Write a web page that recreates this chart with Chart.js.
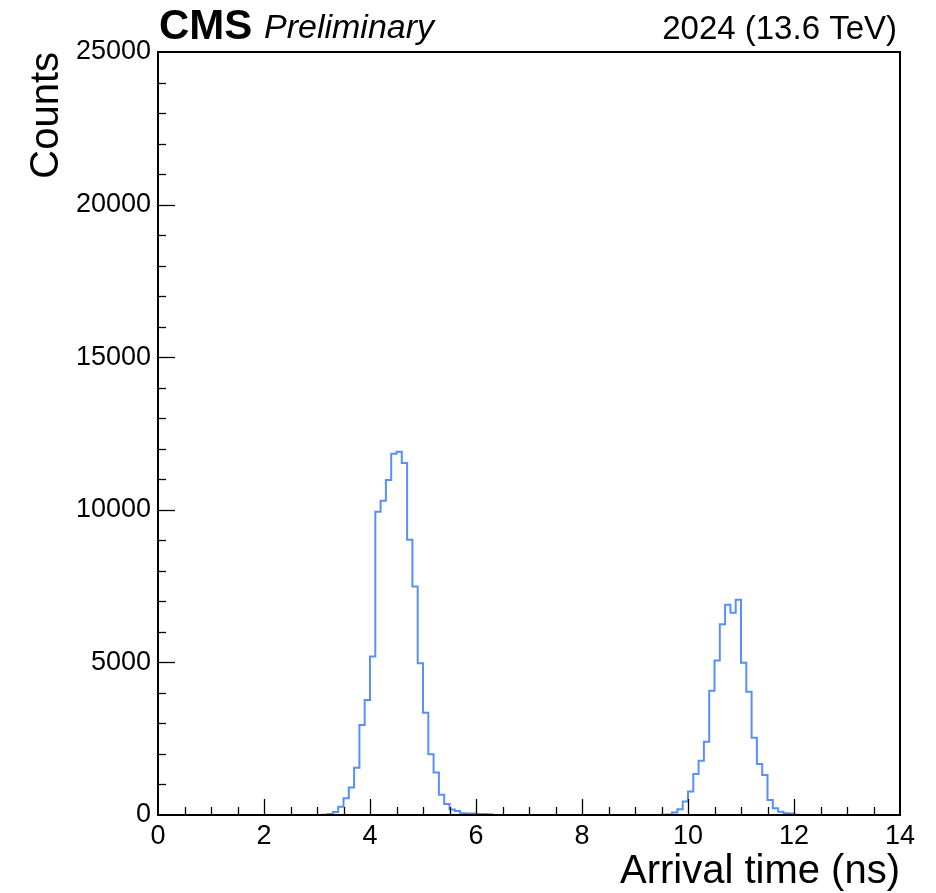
<!DOCTYPE html>
<html>
<head>
<meta charset="utf-8">
<script src="https://cdn.jsdelivr.net/npm/chart.js@4.4.1/dist/chart.umd.min.js"></script>
<style>
  html, body { margin: 0; padding: 0; background: #fff; }
  #wrap { width: 936px; height: 893px; }
</style>
</head>
<body>
<div id="wrap"><canvas id="myChart" width="936" height="893"></canvas></div>
<script>
// histogram: 140 bins of 0.1 ns from 0 to 14 ns
const binWidth = 0.1;
const xMin = 0;
const xMax = 14;
const counts = [
  0, 0, 0, 0, 0, 0, 0, 0, 0, 0,                        // 0.0 - 1.0
  0, 0, 0, 0, 0, 0, 0, 0, 0, 0,                        // 1.0 - 2.0
  0, 0, 0, 0, 0, 0, 0, 0, 0, 0,                        // 2.0 - 3.0
  0, 10, 30, 100, 270, 550, 900, 1550, 2950, 3770,     // 3.0 - 4.0
  5190, 9940, 10300, 10980, 11840, 11900, 11530, 9020, 7490, 4970, // 4.0 - 5.0
  3350, 1990, 1390, 660, 360, 180, 130, 60, 50, 50,    // 5.0 - 6.0
  30, 30, 25, 0, 0, 0, 0, 0, 0, 0,                     // 6.0 - 7.0
  0, 0, 0, 0, 0, 0, 0, 0, 0, 0,                        // 7.0 - 8.0
  0, 0, 0, 0, 0, 0, 0, 0, 0, 0,                        // 8.0 - 9.0
  0, 0, 0, 0, 0, 5, 20, 80, 190, 440,                  // 9.0 - 10.0
  770, 1340, 1780, 2400, 4070, 5060, 6250, 6890, 6630, 7050, // 10.0 - 11.0
  4990, 4040, 2530, 1670, 1310, 490, 220, 110, 55, 50, // 11.0 - 12.0
  10, 0, 0, 0, 0, 0, 0, 0, 0, 0,                       // 12.0 - 13.0
  0, 0, 0, 0, 0, 0, 0, 0, 0, 0                         // 13.0 - 14.0
];
const yMin = 0;
const yMax = 25000;
const yLabelStep = 5000;
const xLabelStep = 2;

const FONT = '"Liberation Sans", Arial, Helvetica, sans-serif';
const LINE_BLUE = '#5790fc';

// one point per lower bin edge, plus the closing upper edge
const points = counts.map((c, i) => ({ x: +(xMin + i * binWidth).toFixed(2), y: c }));
points.push({ x: xMax, y: 0 });

// frame, inward ticks (ROOT style) and the CMS labels
const rootStyle = {
  id: 'rootStyle',
  afterDatasetsDraw(chart) {
    const { ctx, chartArea: a, scales } = chart;
    ctx.save();
    ctx.strokeStyle = '#000';
    ctx.lineWidth = 1.3;
    scales.y.ticks.forEach(t => {
      if (t.value <= yMin || t.value >= yMax) return;
      const py = Math.round(scales.y.getPixelForValue(t.value)) + 0.5;
      const len = t.value % yLabelStep === 0 ? 17 : 8;
      ctx.beginPath();
      ctx.moveTo(a.left, py);
      ctx.lineTo(a.left + len, py);
      ctx.stroke();
    });
    scales.x.ticks.forEach(t => {
      if (t.value <= xMin || t.value >= xMax) return;
      const px = Math.round(scales.x.getPixelForValue(t.value)) + 0.5;
      const len = t.value % xLabelStep === 0 ? 16 : 8;
      ctx.beginPath();
      ctx.moveTo(px, a.bottom);
      ctx.lineTo(px, a.bottom - len);
      ctx.stroke();
    });
    ctx.lineWidth = 2;
    ctx.strokeRect(a.left, a.top, a.right - a.left, a.bottom - a.top);
    ctx.restore();
  },
  afterDraw(chart) {
    const { ctx } = chart;
    ctx.save();
    ctx.fillStyle = '#000';
    ctx.textBaseline = 'alphabetic';
    ctx.textAlign = 'left';
    ctx.font = 'bold 42px ' + FONT;
    ctx.fillText('CMS', 159, 39);
    ctx.font = 'italic 34px ' + FONT;
    ctx.fillText('Preliminary', 264, 38);
    ctx.textAlign = 'right';
    ctx.font = '33px ' + FONT;
    ctx.fillText('2024 (13.6 TeV)', 897, 39);
    ctx.restore();
  }
};

const ctx = document.getElementById('myChart').getContext('2d');
new Chart(ctx, {
  type: 'line',
  data: {
    datasets: [{
      label: 'Arrival time',
      data: points,
      stepped: 'before',
      borderColor: LINE_BLUE,
      borderWidth: 2,
      pointRadius: 0,
      fill: false,
      tension: 0
    }]
  },
  options: {
    responsive: false,
    animation: false,
    layout: { padding: { top: 52, right: 36, left: 0, bottom: 0 } },
    plugins: {
      legend: { display: false },
      tooltip: { enabled: false }
    },
    scales: {
      x: {
        type: 'linear',
        min: xMin,
        max: xMax,
        afterFit(scale) { scale.height = 78; },
        grid: { display: false, drawTicks: false },
        border: { display: false },
        ticks: {
          stepSize: 0.5,
          autoSkip: false,
          maxRotation: 0,
          padding: 5,
          color: '#000',
          font: { family: FONT, size: 27 },
          callback: v => (v % xLabelStep === 0 ? String(v) : '')
        },
        title: {
          display: true,
          text: 'Arrival time (ns)',
          align: 'end',
          color: '#000',
          font: { family: FONT, size: 40 },
          padding: { top: 0, bottom: -3 }
        }
      },
      y: {
        type: 'linear',
        min: yMin,
        max: yMax,
        afterFit(scale) { scale.width = 158; },
        grid: { display: false, drawTicks: false },
        border: { display: false },
        ticks: {
          stepSize: 1000,
          autoSkip: false,
          padding: 7,
          color: '#000',
          font: { family: FONT, size: 27 },
          callback: v => (v % yLabelStep === 0 ? String(v) : '')
        },
        title: {
          display: true,
          text: 'Counts',
          align: 'end',
          color: '#000',
          font: { family: FONT, size: 40 },
          padding: { top: 23, bottom: 0 }
        }
      }
    }
  },
  plugins: [rootStyle]
});
</script>
</body>
</html>
